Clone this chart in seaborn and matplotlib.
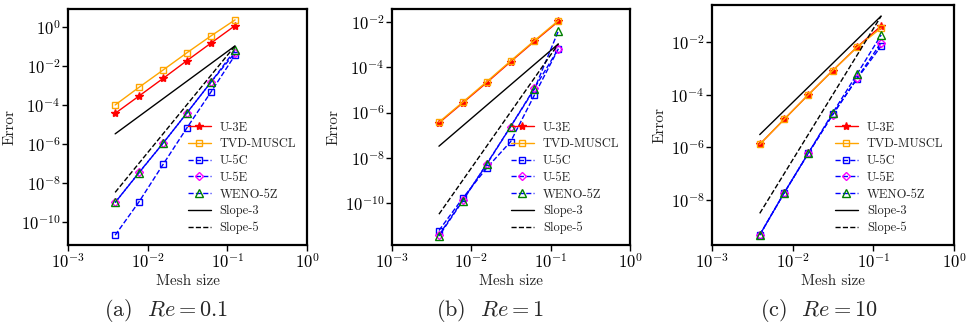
import numpy as np
import pandas as pd
import matplotlib
matplotlib.use("Agg")
import matplotlib.pyplot as plt
import matplotlib.ticker as mticker
import seaborn as sns

# ---------------- data ----------------
h = [0.00390625, 0.0078125, 0.015625, 0.03125, 0.0625, 0.125]
h_ends = [0.00390625, 0.125]

U3E_a = [3.7e-5, 2.9e-4, 2.3e-3, 1.9e-2, 0.15, 1.17]
TVD_a = [1.0e-4, 8.1e-4, 6.2e-3, 4.8e-2, 0.35, 2.3]
U5C_a = [2.1e-11, 1.1e-9, 9.0e-8, 6.9e-6, 4.7e-4, 3.6e-2]
U5E_a = [1.0e-9, 3.5e-8, 1.1e-6, 4.0e-5, 1.5e-3, 4.8e-2]
WENO_a = [1.0e-9, 3.4e-8, 1.1e-6, 4.0e-5, 1.5e-3, 6.6e-2]
S3_a = [3.3e-6, 0.107]
S5_a = [3.3e-9, 0.107]

U3E_b = [3.5e-7, 2.7e-6, 2.1e-5, 1.75e-4, 1.4e-3, 1.05e-2]
TVD_b = [3.8e-7, 2.9e-6, 2.3e-5, 1.9e-4, 1.5e-3, 1.15e-2]
U5C_b = [6.3e-12, 1.7e-10, 3.6e-9, 5.2e-8, 6.0e-6, 6.5e-4]
U5E_b = [4.0e-12, 1.4e-10, 5.2e-9, 2.4e-7, 1.2e-5, 6.5e-4]
WENO_b = [3.6e-12, 1.3e-10, 5.5e-9, 2.4e-7, 1.1e-5, 4.0e-3]
S3_b = [3.3e-8, 1.07e-3]
S5_b = [3.3e-11, 1.07e-3]

U3E_c = [1.3e-6, 1.15e-5, 1.0e-4, 8.3e-4, 6.5e-3, 4.2e-2]
TVD_c = [1.3e-6, 1.15e-5, 1.0e-4, 8.3e-4, 6.4e-3, 3.5e-2]
U5C_c = [4.6e-10, 1.8e-8, 5.9e-7, 1.8e-5, 4.0e-4, 7.2e-3]
U5E_c = [4.6e-10, 1.8e-8, 5.9e-7, 1.7e-5, 4.2e-4, 9.8e-3]
WENO_c = [4.6e-10, 1.8e-8, 6.0e-7, 2.0e-5, 6.0e-4, 1.9e-2]
S3_c = [3.05e-6, 0.1]
S5_c = [3.05e-9, 0.1]

labels = ["U-3E", "TVD-MUSCL", "U-5C", "U-5E", "WENO-5Z", "Slope-3", "Slope-5"]
captions = [r"(a)  $Re = 0.1$", r"(b)  $Re = 1$", r"(c)  $Re = 10$"]
xticks = [1e-3, 1e-2, 1e-1, 1e0]
yticks_a = [1e0, 1e-2, 1e-4, 1e-6, 1e-8, 1e-10]
yticks_b = [1e-2, 1e-4, 1e-6, 1e-8, 1e-10]
yticks_c = [1e-2, 1e-4, 1e-6, 1e-8]

# ---------------- style ----------------
sns.set_theme(style="ticks")
plt.rcParams.update({
    "font.family": "serif",
    "font.serif": ["cmr10", "DejaVu Serif"],
    "mathtext.fontset": "cm",
    "axes.unicode_minus": False,
    "axes.formatter.use_mathtext": True,
})

W, H = 966, 327
fig = plt.figure(figsize=(W / 100, H / 100), dpi=100)

# axes boxes in pixels: left, right, top, bottom
boxes = [(68, 307, 9, 245), (392, 630, 9, 245), (712, 954, 5, 245)]
ylims = [(10 ** -11.18, 10 ** 0.92), (10 ** -11.84, 10 ** -1.43), (10 ** -9.72, 10 ** -0.58)]
panels = [
    (U3E_a, TVD_a, U5C_a, U5E_a, WENO_a, S3_a, S5_a, yticks_a),
    (U3E_b, TVD_b, U5C_b, U5E_b, WENO_b, S3_b, S5_b, yticks_b),
    (U3E_c, TVD_c, U5C_c, U5E_c, WENO_c, S3_c, S5_c, yticks_c),
]
cap_x = [166, 490, 819]


def fmt(v, pos):
    e = int(round(np.log10(v)))
    return r"$10^{%d}$" % e


for i, (box, ylim, pdata) in enumerate(zip(boxes, ylims, panels)):
    l, r, t, b = box
    ax = fig.add_axes([l / W, (H - b) / H, (r - l) / W, (b - t) / H])
    ax.set_xscale("log")
    ax.set_yscale("log")
    u3e, tvd, u5c, u5e, weno, s3, s5, yt = pdata

    lw = dict(ax=ax, linewidth=1.0, markeredgewidth=1.0)
    sns.lineplot(x=h, y=u3e, color="red", marker="*", markersize=6,
                 markerfacecolor="red", markeredgecolor="red", label=labels[0], **lw)
    sns.lineplot(x=h, y=tvd, color="orange", marker="s", markersize=4.8,
                 markerfacecolor="none", markeredgecolor="orange", label=labels[1], **lw)
    sns.lineplot(x=h, y=u5c, color="blue", marker="s", markersize=4.8,
                 markerfacecolor="none", markeredgecolor="blue", linestyle="--",
                 label=labels[2], **lw)
    sns.lineplot(x=h, y=u5e, color="blue", marker="D", markersize=4.2,
                 markerfacecolor="none", markeredgecolor="magenta", linestyle="--",
                 label=labels[3], **lw)
    sns.lineplot(x=h, y=weno, color="blue", marker="^", markersize=5.2,
                 markerfacecolor="none", markeredgecolor="green",
                 linestyle=(2.6, (3.7, 1.6)), label=labels[4], **lw)
    sns.lineplot(x=h_ends, y=s3, color="black", linewidth=1.0, label=labels[5], ax=ax)
    sns.lineplot(x=h_ends, y=s5, color="black", linewidth=1.0, linestyle="--",
                 label=labels[6], ax=ax)

    ax.set_xlim(1e-3, 1e0)
    ax.set_ylim(*ylim)
    ax.set_xticks(xticks)
    ax.set_yticks(yt)
    ax.xaxis.set_major_formatter(mticker.FuncFormatter(fmt))
    ax.yaxis.set_major_formatter(mticker.FuncFormatter(fmt))
    ax.xaxis.set_minor_locator(mticker.NullLocator())
    ax.yaxis.set_minor_locator(mticker.NullLocator())
    ax.tick_params(which="major", direction="out", length=4, width=1.0,
                   labelsize=12, pad=1.5, color="black", labelcolor="black")
    for sp in ax.spines.values():
        sp.set_visible(True)
        sp.set_linewidth(1.6)
        sp.set_color("black")
    ax.set_xlabel("Mesh size", fontsize=11, labelpad=2)
    ax.set_ylabel("Error", fontsize=11, labelpad=3)
    leg = ax.legend(loc="lower right", frameon=False, fontsize=9,
                    labelspacing=0.37, handlelength=1.85, handletextpad=0.72,
                    borderaxespad=0.45)
    for ln in leg.get_lines():
        if ln.get_label() == labels[4]:
            ln.set_linestyle("--")
    fig.text(cap_x[i] / W, (H - 311) / H, captions[i], ha="center", va="center",
             fontsize=16)

fig.savefig("out.png", dpi=100)
